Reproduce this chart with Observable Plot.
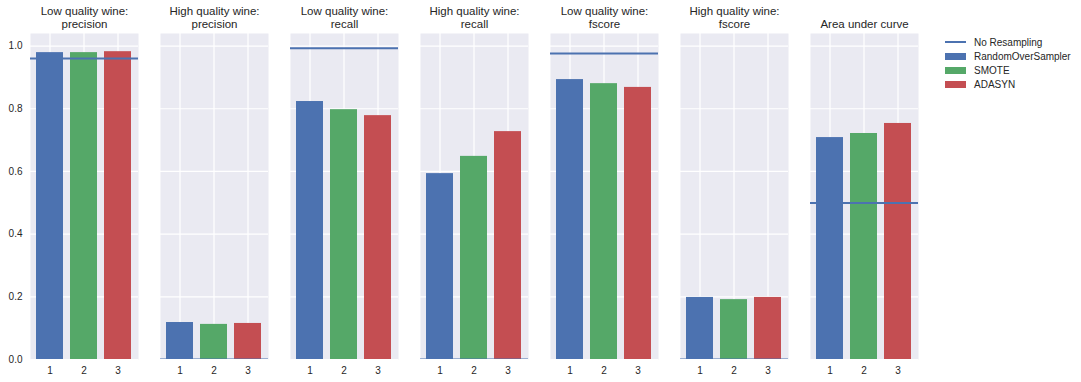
<!DOCTYPE html>
<html>
<head>
<meta charset="utf-8">
<script src="https://cdn.jsdelivr.net/npm/d3@7"></script>
<script src="https://cdn.jsdelivr.net/npm/@observablehq/plot@0.6"></script>
<style>
  body { margin: 0; background: white; }
  #wrap { position: relative; width: 1081px; height: 382px; font-family: "Liberation Sans", Arial, sans-serif; color: #262626; }
  #legend { position: absolute; left: 945px; top: 35px; font-size: 10px; }
  .row { display: flex; align-items: center; height: 14px; }
  .sw { width: 21px; margin-right: 8px; display: flex; align-items: center; }
</style>
</head>
<body>
<div id="wrap"><div id="chart"></div><div id="legend"></div></div>
<script>
const metrics = [
  "Low quality wine:\nprecision",
  "High quality wine:\nprecision",
  "Low quality wine:\nrecall",
  "High quality wine:\nrecall",
  "Low quality wine:\nfscore",
  "High quality wine:\nfscore",
  "Area under curve"
];
const methods = ["RandomOverSampler", "SMOTE", "ADASYN"];
const methodTicks = [1, 2, 3];
const randomOverSampler = [0.979, 0.118, 0.823, 0.593, 0.893, 0.198, 0.708];
const smote             = [0.979, 0.112, 0.797, 0.648, 0.880, 0.191, 0.721];
const adasyn            = [0.982, 0.115, 0.778, 0.727, 0.868, 0.198, 0.753];
const noResampling      = [0.960, 0.0, 0.993, 0.0, 0.976, 0.0, 0.499];
const yTicks = [0, 0.2, 0.4, 0.6, 0.8, 1.0];
const colors = ["#4C72B0", "#55A868", "#C44E52"];
const lineColor = "#4C72B0";

const seriesValues = [randomOverSampler, smote, adasyn];
const bars = [];
metrics.forEach((m, i) => {
  methods.forEach((meth, j) => {
    bars.push({metric: m, method: meth, k: methodTicks[j], value: seriesValues[j][i]});
  });
});
const baseline = metrics.map((m, i) => ({metric: m, value: noResampling[i]}));
// split titles into separate lines (last line sits just above the panel)
const titleLines = [];
metrics.forEach(m => {
  const parts = m.split("\n");
  parts.forEach((t, idx) => titleLines.push({metric: m, text: t, fromBottom: parts.length - 1 - idx}));
});

const chart = Plot.plot({
  width: 1081,
  height: 382,
  marginLeft: 28,
  marginRight: 160,
  marginTop: 33,
  marginBottom: 23,
  style: {fontFamily: "Liberation Sans, Arial, sans-serif", fontSize: "10px", color: "#262626", background: "white"},
  fx: {domain: metrics, paddingInner: 0.166, paddingOuter: 0, axis: null},
  x: {domain: methodTicks, paddingInner: 0.2, paddingOuter: 0.144},
  y: {domain: [0, 1.04]},
  color: {domain: methods, range: colors},
  marks: [
    Plot.frame({fill: "#EAEAF2", stroke: null}),
    Plot.gridY(yTicks, {stroke: "white", strokeOpacity: 1, strokeWidth: 1.2}),
    Plot.gridX({stroke: "white", strokeOpacity: 1, strokeWidth: 1.2}),
    Plot.axisY(yTicks, {tickSize: 0, tickPadding: 8, tickFormat: ".1f", fontSize: 10, label: null}),
    Plot.axisX({tickSize: 0, tickPadding: 7, fontSize: 10, label: null}),
    Plot.barY(bars, {fx: "metric", x: "k", y: "value", fill: "method"}),
    Plot.ruleY(baseline, {fx: "metric", y: "value", stroke: lineColor, strokeWidth: 2, clip: true}),
    Plot.text(titleLines.filter(d => d.fromBottom === 0), {fx: "metric", text: "text", frameAnchor: "top", dy: -6, lineAnchor: "bottom", fontSize: 11.5, fill: "#262626"}),
    Plot.text(titleLines.filter(d => d.fromBottom === 1), {fx: "metric", text: "text", frameAnchor: "top", dy: -19, lineAnchor: "bottom", fontSize: 11.5, fill: "#262626"})
  ]
});
document.getElementById("chart").appendChild(chart);

const legend = document.getElementById("legend");
const lrow = document.createElement("div");
lrow.className = "row";
lrow.innerHTML = `<div class="sw"><div style="width:21px;height:2px;background:${lineColor}"></div></div><span>No Resampling</span>`;
legend.appendChild(lrow);
methods.forEach((m, j) => {
  const r = document.createElement("div");
  r.className = "row";
  r.innerHTML = `<div class="sw"><div style="width:21px;height:7px;background:${colors[j]}"></div></div><span>${m}</span>`;
  legend.appendChild(r);
});
</script>
</body>
</html>
